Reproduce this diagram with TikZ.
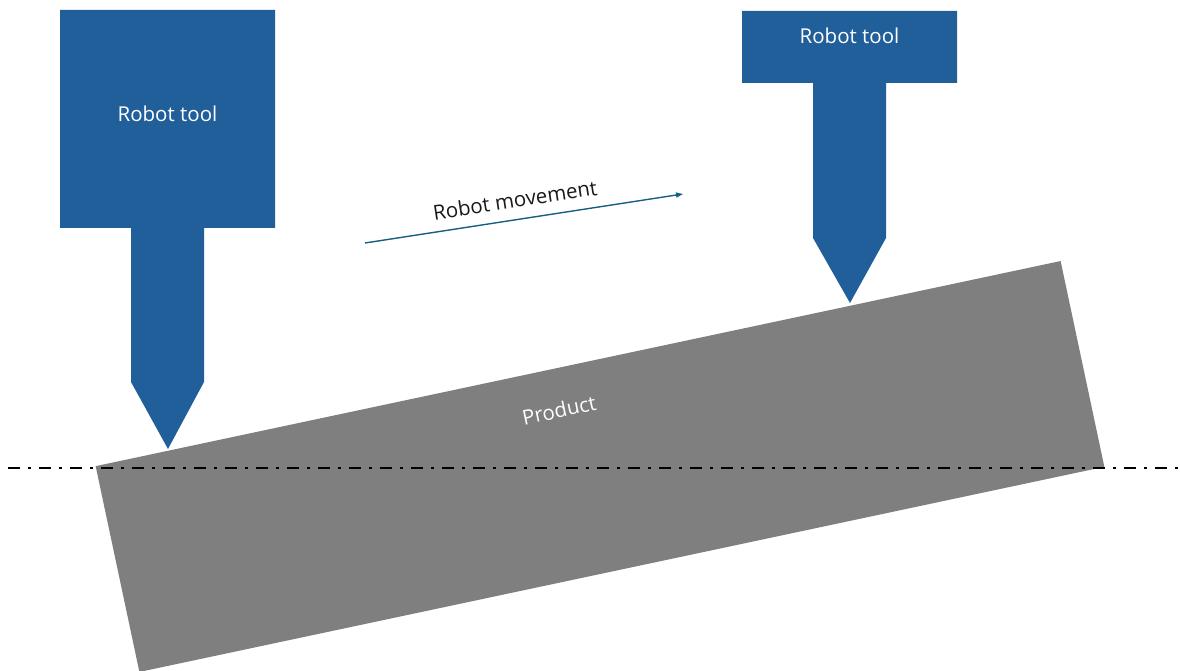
\documentclass[tikz,border=0pt]{standalone}
\usepackage{fontspec}
\setmainfont{Open Sans}
\usetikzlibrary{arrows.meta}
\definecolor{toolblue}{HTML}{215F9A}
\definecolor{productgray}{HTML}{7F7F7F}
\definecolor{movecolor}{HTML}{156082}
\tikzset{
  labelfont/.style={font=\fontsize{20.5}{24}\selectfont},
  tool/.style={fill=toolblue, draw=none},
  toollabel/.style={text=white, labelfont, inner sep=0pt},
  product/.style={fill=productgray, draw=none},
  centreline/.style={line width=2.6pt, dash pattern=on 12pt off 8pt on 3pt off 8pt},
  movearrow/.style={draw=movecolor, line width=1.4pt, -{Triangle[length=7pt,width=5pt]}},
}
\begin{document}
\begin{tikzpicture}[x=1pt,y=1pt]
  \useasboundingbox (0,0) rectangle (1180,671);

  % the tilted product
  \coordinate (pc) at (600,204.5);
  \fill[product, rotate around={12:(pc)}] (106.75,99.3) rectangle ++(986.5,210.4);
  \node[text=white, rotate=12, labelfont, inner sep=0pt] (productlabel) at (559,261) {Product};

  % horizontal centre line
  \coordinate (cl-start) at (8,203);
  \coordinate (cl-end) at (1180,203);
  \draw[centreline] (cl-start) -- (cl-end);

  % left robot tool
  \fill[tool] (60,661) -- (275,661) -- (275,443) -- (204,443) -- (204,289)
     -- (168,222) -- (131,289) -- (131,443) -- (60,443) -- cycle;
  \node[toollabel] (toolA) at (167.5,557) {Robot tool};

  % right robot tool
  \fill[tool] (742,660) -- (957,660) -- (957,588) -- (886,588) -- (886,433)
     -- (850,368) -- (813,433) -- (813,588) -- (742,588) -- cycle;
  \node[toollabel] (toolB) at (849.5,635) {Robot tool};

  % movement arrow
  \coordinate (mv-start) at (365,428);
  \coordinate (mv-end) at (683,477);
  \draw[movearrow] (mv-start) -- (mv-end);
  \node[rotate=8.8, labelfont, text=black!90, inner sep=0pt] (movelabel) at (515,471) {Robot movement};
\end{tikzpicture}
\end{document}
